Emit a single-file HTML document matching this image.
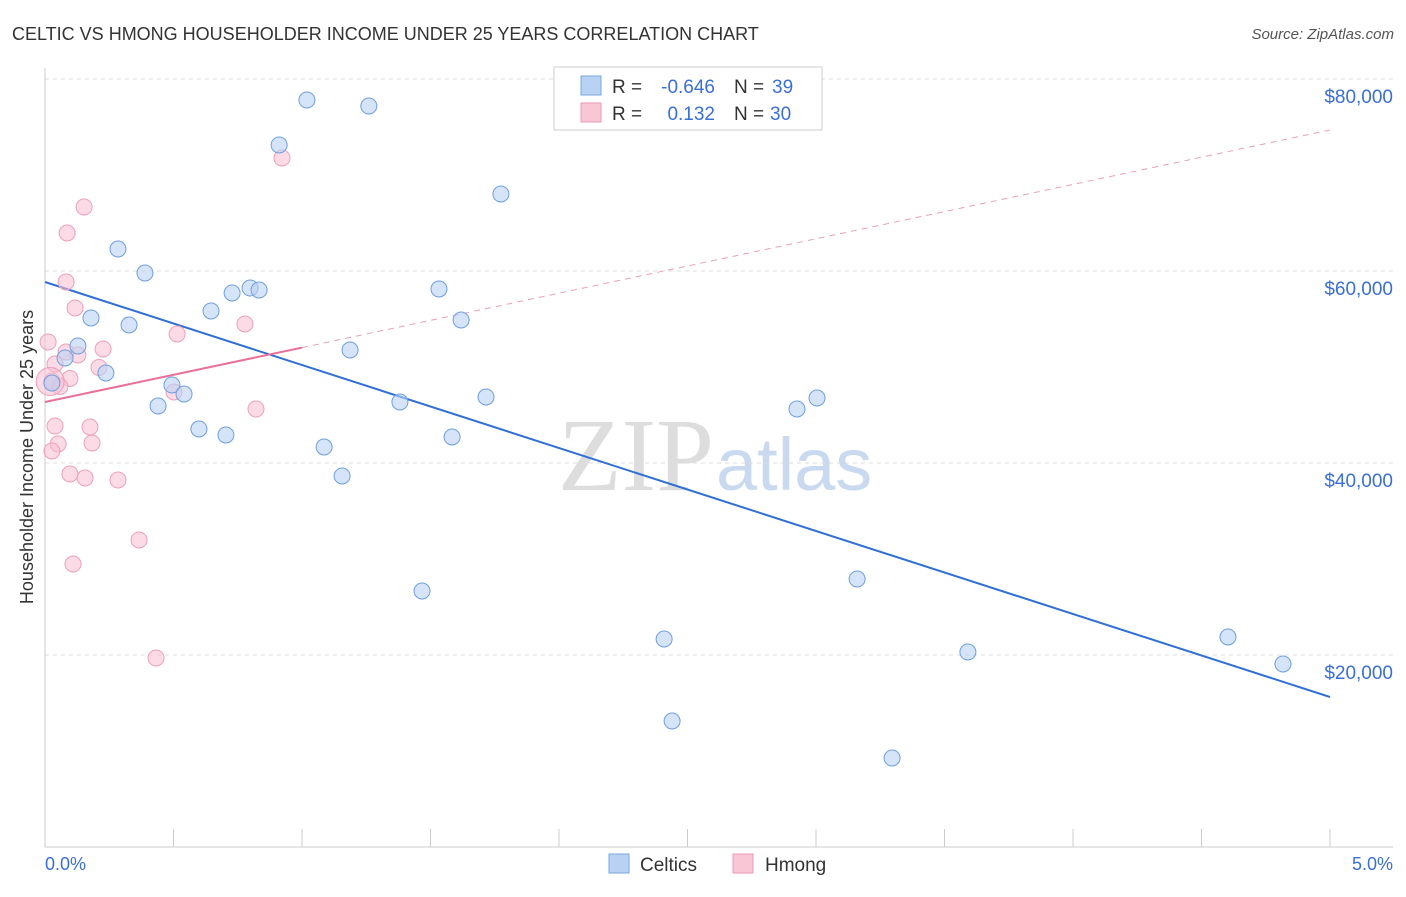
<!DOCTYPE html>
<html><head><meta charset="utf-8"><style>
body{margin:0;background:#fff;font-family:"Liberation Sans",sans-serif;}
</style></head><body>
<svg width="1406" height="892" xmlns="http://www.w3.org/2000/svg" font-family="Liberation Sans, sans-serif">
<text x="12" y="40" font-size="18" fill="#333">CELTIC VS HMONG HOUSEHOLDER INCOME UNDER 25 YEARS CORRELATION CHART</text>
<text x="1394" y="39" font-size="15" fill="#555" text-anchor="end" font-style="italic">Source: ZipAtlas.com</text>
<text x="714" y="490" font-size="104" fill="#ddd" text-anchor="end" font-family="Liberation Serif, serif">ZIP</text>
<text x="716" y="490" font-size="74" fill="#c9d9ef">atlas</text>
<g id="grid"></g>
<line x1="45" y1="68" x2="45" y2="847" stroke="#ccc"/>
<line x1="45" y1="847" x2="1393" y2="847" stroke="#ccc"/>
<g id="ticks"></g>
<text x="45" y="870" font-size="18" fill="#3a6fd8">0.0%</text>
<text x="1393" y="870" font-size="18" fill="#3a6fd8" text-anchor="end">5.0%</text>
<text transform="translate(33,457) rotate(-90)" font-size="18" fill="#333" text-anchor="middle">Householder Income Under 25 years</text>
<g id="trends"></g>
<g id="points"></g>
<g>
<rect x="554" y="67" width="268" height="63" fill="#fff" stroke="#ccc"/>
<rect x="581" y="76" width="20" height="19" fill="#b9d2f3" stroke="#7aa6e3"/>
<rect x="581" y="103" width="20" height="19" fill="#f9c6d6" stroke="#ec9ab5"/>
<text x="612" y="93" font-size="19" fill="#333">R =</text>
<text x="715" y="93" font-size="19" fill="#3a6fd8" text-anchor="end">-0.646</text>
<text x="734" y="93" font-size="19" fill="#333">N =</text>
<text x="772" y="93" font-size="19" fill="#3a6fd8">39</text>
<text x="612" y="120" font-size="19" fill="#333">R =</text>
<text x="715" y="120" font-size="19" fill="#3a6fd8" text-anchor="end">0.132</text>
<text x="734" y="120" font-size="19" fill="#333">N =</text>
<text x="770" y="120" font-size="19" fill="#3a6fd8">30</text>
</g>
<g>
<rect x="609" y="854" width="20" height="19" fill="#b9d2f3" stroke="#7aa6e3"/>
<text x="640" y="871" font-size="19" fill="#333">Celtics</text>
<rect x="733" y="854" width="20" height="19" fill="#f9c6d6" stroke="#ec9ab5"/>
<text x="765" y="871" font-size="19" fill="#333">Hmong</text>
</g>
</svg>
<script>
const yTicks=[20000,40000,60000,80000];
const yTickLabels=["$20,000","$40,000","$60,000","$80,000"];
const xTicks=[0,0.5,1,1.5,2,2.5,3,3.5,4,4.5,5];
const celticX=[1.019,1.260,0.911,1.774,0.284,0.389,0.798,0.833,0.728,1.533,0.646,0.179,0.327,1.619,1.187,0.128,0.078,0.237,0.027,0.494,0.541,0.440,1.381,1.716,2.926,3.004,0.599,0.704,1.584,1.086,1.156,1.467,3.160,2.409,4.603,3.591,4.817,2.440,3.296];
const celticY=[77812,77188,73125,68021,62292,59792,58229,58021,57708,58125,55833,55104,54375,54896,51771,52188,50938,49375,48333,48125,47188,45938,46354,46875,45625,46771,43542,42917,42708,41667,38646,26667,27917,21667,21875,20313,19063,13125,9271];
const hmongX=[0.922,0.152,0.086,0.082,0.117,0.514,0.778,0.012,0.226,0.082,0.128,0.039,0.210,0.097,0.027,0.058,0.502,0.821,0.039,0.175,0.051,0.183,0.027,0.097,0.156,0.284,0.366,0.109,0.432,0.020];
const hmongY=[71771,66667,63958,58854,56146,53438,54479,52604,51875,51563,51250,50313,49948,48802,48542,47969,47396,45625,43854,43750,41979,42083,41250,38854,38438,38229,31979,29479,19688,48490];
const hmongR=[8,8,8,8,8,8,8,8,8,8,8,8,8,8,8,8,8,8,8,8,8,8,8,8,8,8,8,8,8,14];
const celticTrend=[58854,15625];
const hmongTrend=[46354,74688];
const hmongSolidEnd=1.0;
const NS="http://www.w3.org/2000/svg";
const sx=v=>45+v/5*1285, sy=v=>847-v/20000*192;
function mk(tag,attrs,parent){const e=document.createElementNS(NS,tag);for(const k in attrs)e.setAttribute(k,attrs[k]);document.getElementById(parent).appendChild(e);return e;}
yTicks.forEach((t,i)=>{
 const l=mk('line',{x1:45,x2:1393,y1:sy(t),y2:sy(t),stroke:'#ddd','stroke-dasharray':'4,4'},'grid');
 
 
 const tx=mk('text',{x:1393,y:sy(t)+24,'font-size':19,fill:'#3a6fd8','text-anchor':'end'},'grid');
 tx.textContent=yTickLabels[i];
 
 
});
xTicks.forEach(t=>{
 const l=mk('line',{x1:sx(t),x2:sx(t),y1:829,y2:847,stroke:'#ccc'},'ticks');
 
 
});
function lin(a,x){return a[0]+(a[1]-a[0])*x/5;}
let t1=mk('line',{x1:sx(0),y1:sy(celticTrend[0]),x2:sx(5),y2:sy(celticTrend[1]),stroke:'#2f6fd6','stroke-width':2},'trends');


let t2=mk('line',{x1:sx(0),y1:sy(hmongTrend[0]),x2:sx(hmongSolidEnd),y2:sy(lin(hmongTrend,hmongSolidEnd)),stroke:'#e8709a','stroke-width':2},'trends');


let t3=mk('line',{x1:sx(hmongSolidEnd),y1:sy(lin(hmongTrend,hmongSolidEnd)),x2:sx(5),y2:sy(hmongTrend[1]),stroke:'#e8a0b8','stroke-width':1,'stroke-dasharray':'6,5'},'trends');


hmongX.forEach((x,i)=>{
 const c=mk('circle',{cx:sx(x),cy:sy(hmongY[i]),r:hmongR[i],fill:'rgba(249,190,210,0.55)',stroke:'#eda0bb','stroke-width':1},'points');
 
 
});
celticX.forEach((x,i)=>{
 const c=mk('circle',{cx:sx(x),cy:sy(celticY[i]),r:8,fill:'rgba(185,210,243,0.6)',stroke:'#6f9fe0','stroke-width':1},'points');
 
 
});
</script>
</body></html>
